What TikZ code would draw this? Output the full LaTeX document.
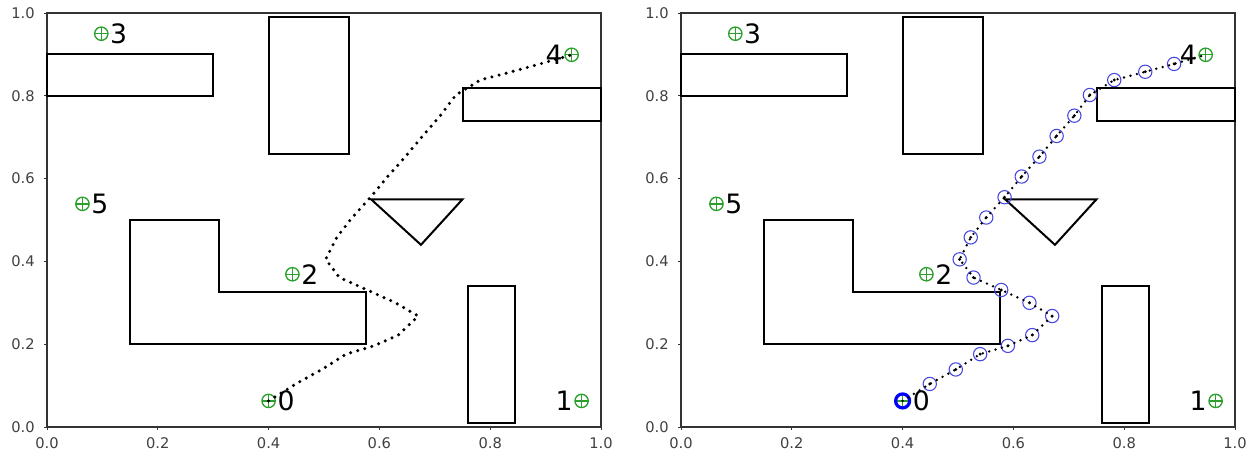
\documentclass[tikz,border=0pt]{standalone}
\usepackage{fontspec}
\setmainfont{DejaVu Sans}
\definecolor{goalgreen}{RGB}{44,160,44}
\definecolor{wpblue}{RGB}{70,70,225}
\def\wplist{1/0.449/0.104, 2/0.496/0.139, 3/0.540/0.176, 4/0.590/0.196, 5/0.634/0.222, 6/0.670/0.268, 7/0.629/0.300, 8/0.578/0.331, 9/0.528/0.361, 10/0.503/0.405, 11/0.523/0.458, 12/0.551/0.506, 13/0.584/0.555, 14/0.615/0.605, 15/0.647/0.653, 16/0.678/0.703, 17/0.710/0.752, 18/0.738/0.802, 19/0.782/0.838, 20/0.838/0.858, 21/0.890/0.877}
\tikzset{
  goal/.style={circle, draw=goalgreen, line width=1pt, minimum size=10pt, inner sep=0pt,
    path picture={\draw[goalgreen, line width=1pt] (path picture bounding box.north) -- (path picture bounding box.south) (path picture bounding box.west) -- (path picture bounding box.east);}},
  obst/.style={draw=black, line width=1.5pt, line join=miter},
  axframe/.style={draw=black!80, line width=0.9pt},
  ticklab/.style={font=\fontsize{11}{11}\selectfont, text=black!75, inner sep=0pt},
  biglab/.style={font=\fontsize{20}{20}\selectfont, inner sep=1pt},
  wp/.style={circle, draw=wpblue, line width=0.8pt, minimum size=10pt, inner sep=0pt},
  pathdots/.style={line width=2.6pt, line cap=round, dash pattern=on 0pt off 5.5pt},
  pathdotsfine/.style={line width=2pt, line cap=round, dash pattern=on 0pt off 5pt},
  panel/.pic={
    \draw[axframe] (0,0) rectangle (1,1);
    \foreach \v in {0.0,0.2,0.4,0.6,0.8,1.0} {
      \draw[axframe, line width=0.7pt] (\v,0) -- ++(0,-2.6pt);
      \draw[axframe, line width=0.7pt] (0,\v) -- ++(-2.6pt,0);
    }
    \draw[obst] (0,0.8) rectangle (0.3,0.9);
    \draw[obst] (0.4,0.66) rectangle (0.545,0.99);
    \draw[obst] (0.75,0.74) rectangle (1.0,0.82);
    \draw[obst] (0.585,0.55) -- (0.75,0.55) -- (0.675,0.44) -- cycle;
    \draw[obst] (0.15,0.2) -- (0.575,0.2) -- (0.575,0.325) -- (0.31,0.325) -- (0.31,0.5) -- (0.15,0.5) -- cycle;
    \draw[obst] (0.76,0.01) rectangle (0.845,0.34);
  }
}
\begin{document}
\begin{tikzpicture}[x=0.75pt,y=0.75pt]
\useasboundingbox (0,0) rectangle (1260,457);

% ---------------- left panel ----------------
\begin{scope}[shift={(35.25pt,22.5pt)}, x=415.5pt, y=310.5pt]
  \pic {panel};
  \foreach \v in {0.0,0.2,0.4,0.6,0.8,1.0} {
    \node[ticklab, anchor=north] at ([yshift=-7.5pt]\v,0) {\v};
    \node[ticklab, anchor=east] at ([xshift=-9pt]0,\v) {\v};
  }
  \node[goal] (L0) at (0.4,0.063) {};
  \node[goal] (L1) at (0.965,0.063) {};
  \node[goal] (L2) at (0.443,0.369) {};
  \node[goal] (L3) at (0.098,0.950) {};
  \node[goal] (L4) at (0.947,0.899) {};
  \node[goal] (L5) at (0.064,0.539) {};
  \node[biglab, anchor=west] (L0t) at (L0.east) {0};
  \node[biglab, anchor=east] (L1t) at (L1.west) {1};
  \node[biglab, anchor=west] (L2t) at (L2.east) {2};
  \node[biglab, anchor=west] (L3t) at (L3.east) {3};
  \node[biglab, anchor=east] (L4t) at (L4.west) {4};
  \node[biglab, anchor=west] (L5t) at (L5.east) {5};
  \foreach \i/\x/\y in \wplist { \coordinate (Lw\i) at (\x,\y); }
  \draw[pathdots] (L0.center) \foreach \i in {1,...,21} { -- (Lw\i) } -- (L4.center);
\end{scope}

% ---------------- right panel ----------------
\begin{scope}[shift={(510.75pt,22.5pt)}, x=415.5pt, y=310.5pt]
  \pic {panel};
  \foreach \v in {0.0,0.2,0.4,0.6,0.8,1.0} {
    \node[ticklab, anchor=north] at ([yshift=-7.5pt]\v,0) {\v};
    \node[ticklab, anchor=east] at ([xshift=-9pt]0,\v) {\v};
  }
  \node[goal] (R0) at (0.4,0.063) {};
  \node[goal] (R1) at (0.965,0.063) {};
  \node[goal] (R2) at (0.443,0.369) {};
  \node[goal] (R3) at (0.098,0.950) {};
  \node[goal] (R4) at (0.947,0.899) {};
  \node[goal] (R5) at (0.064,0.539) {};
  \node[circle, draw=blue, line width=2.4pt, minimum size=10.5pt, inner sep=0pt] (R0s) at (R0) {};
  \node[biglab, anchor=west] (R0t) at (R0s.east) {0};
  \node[biglab, anchor=east] (R1t) at (R1.west) {1};
  \node[biglab, anchor=west] (R2t) at (R2.east) {2};
  \node[biglab, anchor=west] (R3t) at (R3.east) {3};
  \node[biglab, anchor=east] (R4t) at (R4.west) {4};
  \node[biglab, anchor=west] (R5t) at (R5.east) {5};
  \foreach \i/\x/\y in \wplist { \node[wp] (Rw\i) at (\x,\y) {}; }
  \draw[pathdotsfine] (R0.center) \foreach \i in {1,...,21} { -- (Rw\i.center) } -- (R4.center);
  \foreach \i in {1,...,21} { \fill (Rw\i.center) circle (1.2pt); }
\end{scope}
\end{tikzpicture}
\end{document}
